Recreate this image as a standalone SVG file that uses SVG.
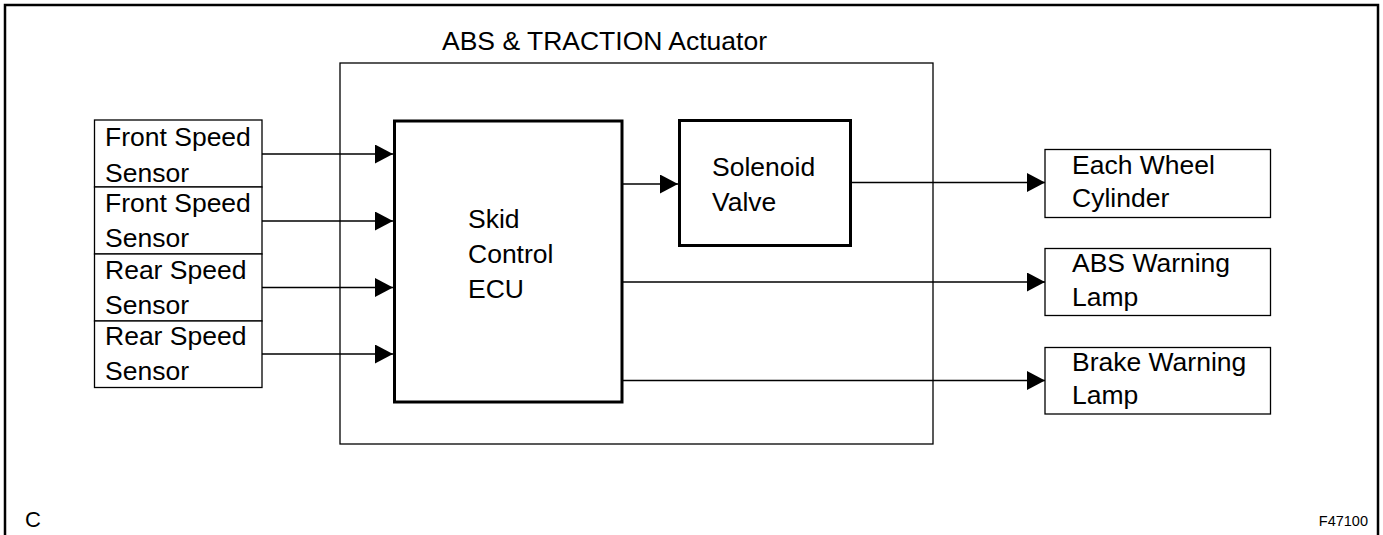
<svg xmlns="http://www.w3.org/2000/svg" width="1383" height="535" viewBox="0 0 1383 535">
<style>
text{font-family:"Liberation Sans",Arial,sans-serif;font-size:26.5px;fill:#000}
.thin{fill:#fff;stroke:#000;stroke-width:1.3}
.thick{fill:#fff;stroke:#000;stroke-width:3}
.wire{fill:none;stroke:#000;stroke-width:1.3}
</style>
<defs>
<marker id="ah" viewBox="0 0 18 19" refX="18" refY="9.5" markerWidth="18" markerHeight="19" markerUnits="userSpaceOnUse" orient="auto">
<path d="M0,0 L18,9.5 L0,19 Z" fill="#000"/>
</marker>
</defs>
<rect x="5" y="5" width="1373" height="545" fill="#fff" stroke="#000" stroke-width="2.5"/>
<g id="actuator">
<rect class="thin" x="340" y="63" width="593" height="381"/>
<text x="442" y="50">ABS &amp; TRACTION Actuator</text>
</g>
<g id="sensors">
<g id="front-speed-sensor-1"><rect class="thin" x="94.5" y="120" width="167.5" height="67"/><text x="105" y="146">Front Speed</text><text x="105" y="181.5">Sensor</text></g>
<g id="front-speed-sensor-2"><rect class="thin" x="94.5" y="187" width="167.5" height="67"/><text x="105" y="212">Front Speed</text><text x="105" y="247">Sensor</text></g>
<g id="rear-speed-sensor-1"><rect class="thin" x="94.5" y="254" width="167.5" height="67"/><text x="105" y="278.5">Rear Speed</text><text x="105" y="313.5">Sensor</text></g>
<g id="rear-speed-sensor-2"><rect class="thin" x="94.5" y="321" width="167.5" height="66.5"/><text x="105" y="345">Rear Speed</text><text x="105" y="380">Sensor</text></g>
</g>
<g id="ecu">
<rect class="thick" x="394.5" y="121" width="227.5" height="281"/>
<text x="468" y="228">Skid</text><text x="468" y="263">Control</text><text x="468" y="298">ECU</text>
</g>
<g id="solenoid">
<rect class="thick" x="679.5" y="120.5" width="171" height="125"/>
<text x="712" y="176">Solenoid</text><text x="712" y="211">Valve</text>
</g>
<g id="wheel-cylinder"><rect class="thin" x="1045" y="149.5" width="225.5" height="68"/><text x="1072" y="174">Each Wheel</text><text x="1072" y="207">Cylinder</text></g>
<g id="abs-lamp"><rect class="thin" x="1045" y="248.5" width="225.5" height="67"/><text x="1072" y="272">ABS Warning</text><text x="1072" y="305.5">Lamp</text></g>
<g id="brake-lamp"><rect class="thin" x="1045" y="347.5" width="225.5" height="66.5"/><text x="1072" y="370.5">Brake Warning</text><text x="1072" y="403.5">Lamp</text></g>
<g id="connectors">
<line class="wire" x1="262" y1="154" x2="393" y2="154" marker-end="url(#ah)"/>
<line class="wire" x1="262" y1="221" x2="393" y2="221" marker-end="url(#ah)"/>
<line class="wire" x1="262" y1="287.5" x2="393" y2="287.5" marker-end="url(#ah)"/>
<line class="wire" x1="262" y1="354" x2="393" y2="354" marker-end="url(#ah)"/>
<line class="wire" x1="622" y1="184" x2="678" y2="184" marker-end="url(#ah)"/>
<line class="wire" x1="851" y1="182.5" x2="1045" y2="182.5" marker-end="url(#ah)"/>
<line class="wire" x1="622" y1="282" x2="1045" y2="282" marker-end="url(#ah)"/>
<line class="wire" x1="622" y1="380.5" x2="1045" y2="380.5" marker-end="url(#ah)"/>
</g>
<text x="25" y="527" style="font-size:22px">C</text>
<text x="1368" y="526" text-anchor="end" style="font-size:14.5px">F47100</text>
</svg>
